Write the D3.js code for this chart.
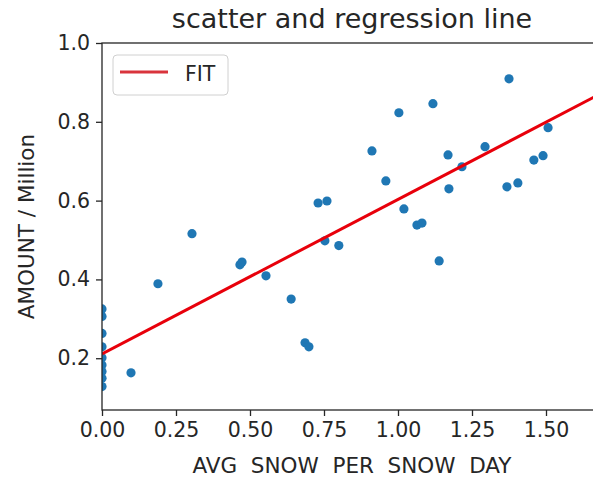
<!DOCTYPE html>
<html>
<head>
<script src="https://cdn.jsdelivr.net/npm/d3@7"></script>
<style>
  body { margin: 0; background: #fff; }
  text { font-family: "DejaVu Sans", sans-serif; fill: #262626; }
</style>
</head>
<body>
<div id="chart"></div>
<script>
// avg snow per snow day (x) and amount in millions (y)
const snowX = [0, 0, 0, 0, 0, 0, 0, 0, 0,
  0.098, 0.189, 0.304, 0.466, 0.473, 0.554, 0.639, 0.686, 0.699,
  0.730, 0.760, 0.753, 0.800, 0.912, 0.959, 1.003, 1.020, 1.064, 1.081,
  1.118, 1.139, 1.169, 1.172, 1.216, 1.294, 1.375, 1.368, 1.405, 1.459,
  1.490, 1.507];
const amountY = [0.325, 0.306, 0.263, 0.229, 0.201, 0.183, 0.166, 0.149, 0.128,
  0.163, 0.389, 0.516, 0.437, 0.444, 0.409, 0.350, 0.239, 0.229,
  0.594, 0.599, 0.498, 0.486, 0.726, 0.650, 0.823, 0.579, 0.538, 0.543,
  0.846, 0.447, 0.716, 0.630, 0.686, 0.737, 0.909, 0.635, 0.645, 0.703,
  0.714, 0.785];
// fitted line as drawn in the picture
const fitIntercept = 0.211;
const fitSlope = 0.392;
const xTicks = [0, 0.25, 0.5, 0.75, 1.0, 1.25, 1.5];
const yTicks = [0.2, 0.4, 0.6, 0.8, 1.0];

const W = 593, H = 480;
const mLeft = 102, mTop = 43, mBottom = 410;

const svg = d3.select("#chart").append("svg")
  .attr("width", W).attr("height", H);

const x = d3.scaleLinear().domain([0, 1.7]).range([mLeft, mLeft + 1.7 * 296]);
const y = d3.scaleLinear().domain([0.0686, 1.0]).range([mBottom, mTop]);

const pts = snowX.map((v, i) => ({x: v, y: amountY[i]}));

svg.append("clipPath").attr("id", "clip").append("rect")
  .attr("x", mLeft).attr("y", mTop).attr("width", x.range()[1] - mLeft).attr("height", mBottom - mTop);

const plot = svg.append("g").attr("clip-path", "url(#clip)");

plot.selectAll("circle").data(pts).join("circle")
  .attr("cx", d => x(d.x)).attr("cy", d => y(d.y))
  .attr("r", 4.6).attr("fill", "#1f77b4");

plot.append("path")
  .datum(x.domain().map(v => [v, fitIntercept + fitSlope * v]))
  .attr("d", d3.line().x(d => x(d[0])).y(d => y(d[1])))
  .attr("stroke", "#e8000b").attr("stroke-width", 3).attr("fill", "none");

// frame
svg.append("rect").attr("x", mLeft).attr("y", mTop)
  .attr("width", x.range()[1] - mLeft).attr("height", mBottom - mTop)
  .attr("fill", "none").attr("stroke", "#262626").attr("stroke-width", 1.3);

const xAxis = svg.append("g").attr("transform", `translate(0,${mBottom})`)
  .call(d3.axisBottom(x).tickValues(xTicks).tickFormat(d3.format(".2f")).tickSize(6).tickPadding(6));
const yAxis = svg.append("g").attr("transform", `translate(${mLeft},0)`)
  .call(d3.axisLeft(y).tickValues(yTicks).tickFormat(d3.format(".1f")).tickSize(6).tickPadding(6));
[xAxis, yAxis].forEach(g => {
  g.select(".domain").remove();
  g.selectAll("line").attr("stroke", "#262626").attr("stroke-width", 1.3);
  g.selectAll("text").style("font-size", "20.5px").attr("fill", "#262626");
});

svg.append("text").attr("x", 352).attr("y", 28).attr("text-anchor", "middle")
  .style("font-size", "27px").text("scatter and regression line");
svg.append("text").attr("x", 352).attr("y", 473).attr("text-anchor", "middle")
  .style("font-size", "21.5px").attr("xml:space", "preserve").text("AVG  SNOW  PER  SNOW  DAY");
svg.append("text").attr("transform", `translate(34,${(mTop + mBottom) / 2}) rotate(-90)`)
  .attr("text-anchor", "middle").style("font-size", "21.5px").text("AMOUNT / Million");

// legend
const lg = svg.append("g");
lg.append("rect").attr("x", 113).attr("y", 55).attr("width", 115).attr("height", 40)
  .attr("rx", 4).attr("fill", "#fff").attr("fill-opacity", 0.8)
  .attr("stroke", "#d0d0d0").attr("stroke-width", 1);
lg.append("line").attr("x1", 120).attr("x2", 168).attr("y1", 72).attr("y2", 72)
  .attr("stroke", "#d9343c").attr("stroke-width", 3);
lg.append("text").attr("x", 185).attr("y", 81).style("font-size", "20.5px").text("FIT");
</script>
</body>
</html>
